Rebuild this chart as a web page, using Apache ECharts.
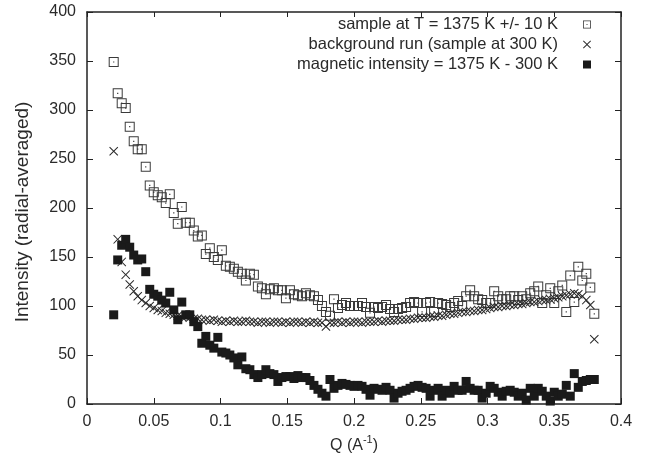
<!DOCTYPE html>
<html>
<head>
<meta charset="utf-8">
<script src="https://cdn.jsdelivr.net/npm/echarts@6/dist/echarts.min.js"></script>
<style>html,body{margin:0;padding:0;background:#fff;}#c{width:650px;height:462px;}</style>
</head>
<body>
<div id="c"></div>
<script>
// Q values (A^-1), shared by the three series
var qValues = [
0.020,0.023,0.026,0.029,0.032,0.035,0.038,0.041,0.044,0.047,
0.050,0.053,0.056,0.059,0.062,0.065,0.068,0.071,0.074,0.077,
0.080,0.083,0.086,0.089,0.092,0.095,0.098,0.101,0.104,0.107,
0.110,0.113,0.116,0.119,0.122,0.125,0.128,0.131,0.134,0.137,
0.140,0.143,0.146,0.149,0.152,0.155,0.158,0.161,0.164,0.167,
0.170,0.173,0.176,0.179,0.182,0.185,0.188,0.191,0.194,0.197,
0.200,0.203,0.206,0.209,0.212,0.215,0.218,0.221,0.224,0.227,
0.230,0.233,0.236,0.239,0.242,0.245,0.248,0.251,0.254,0.257,
0.260,0.263,0.266,0.269,0.272,0.275,0.278,0.281,0.284,0.287,
0.290,0.293,0.296,0.299,0.302,0.305,0.308,0.311,0.314,0.317,
0.320,0.323,0.326,0.329,0.332,0.335,0.338,0.341,0.344,0.347,
0.350,0.353,0.356,0.359,0.362,0.365,0.368,0.371,0.374,0.377,
0.380];

var sampleHot = [
349,317,307,302,283,268,260,260,242,223,
216,213,211,205,214,195,184,201,185,185,
177,171,172,153,159,150,147,157,141,140,
138,135,133,126,133,132,120,118,112,117,
118,116,116,108,116,112,111,110,113,111,
110,106,100,94,90,107,98,101,103,100,
100,100,103,99,93,99,98,99,101,97,
94,97,98,99,103,104,103,94,103,104,
94,103,102,101,99,103,105,100,110,116,
110,107,106,103,103,115,110,107,107,110,
110,106,110,107,113,115,120,103,111,118,
103,115,121,94,131,104,140,126,133,119,
92];

var background = [
258,168,145,132,122,115,110,106,103,100,
98,96,95,93,92,91,90,89,89,88,
87,87,86,86,85,86,85,84,85,84,
85,84,84,85,84,84,83,84,84,83,
84,84,83,84,83,84,84,83,84,83,
84,83,83,79,83,83,84,83,84,83,
84,84,83,84,84,84,85,84,85,85,
85,86,86,86,87,87,88,88,88,89,
89,90,90,91,92,92,93,94,94,95,
95,96,96,97,98,99,99,100,100,101,
101,102,102,103,104,104,105,106,106,107,
108,109,110,111,112,113,112,110,106,101,
66];

var magnetic = [
91,147,162,168,160,152,147,148,135,117,
112,110,106,103,114,96,86,104,91,91,
84,79,62,69,60,57,68,53,52,50,
47,40,48,36,35,30,27,30,35,31,
30,23,27,28,28,26,29,27,27,24,
19,15,11,8,25,16,19,21,20,19,
18,19,18,15,9,16,15,14,17,14,
6,11,13,14,16,18,19,17,16,8,
14,16,8,14,11,18,14,14,23,16,
14,14,6,11,18,16,12,8,13,14,
12,8,11,4,16,8,16,13,8,3,
12,8,10,19,8,31,17,23,24,25,
25];

var seriesNames = [
  'sample at T = 1375 K +/- 10 K',
  'background run (sample at 300 K)',
  'magnetic intensity = 1375 K - 300 K'
];

function pairs(vals) {
  return qValues.map(function (q, i) { return [q, vals[i]]; });
}

var symOpenSquare = 'path://M0,0H10V10H0ZM1,1V9H9V1ZM4.4,4.4H5.6V5.6H4.4Z';
var symCross = 'path://M0,0.8L0.8,0L5,4.2L9.2,0L10,0.8L5.8,5L10,9.2L9.2,10L5,5.8L0.8,10L0,9.2L4.2,5Z';
var symFilled = 'path://M0,0H10V10H0Z';

var FONT = '"Liberation Sans", Arial, Helvetica, sans-serif';
var FS = 16;
var axisCol = '#222';
var textCol = '#2a2a2a';

var chart = echarts.init(document.getElementById('c'), null, {renderer: 'canvas'});
chart.setOption({
  animation: false,
  backgroundColor: '#fff',
  textStyle: {fontFamily: FONT},
  grid: {left: 87, right: 29, top: 12, bottom: 58, containLabel: false},
  legend: {
    orient: 'vertical',
    right: 54,
    top: 11,
    align: 'right',
    itemWidth: 48,
    itemHeight: 8,
    itemGap: 3,
    textStyle: {fontSize: 16.5, color: textCol, fontFamily: FONT},
    data: seriesNames
  },
  xAxis: [{
    type: 'value', min: 0, max: 0.4, interval: 0.05,
    position: 'bottom',
    name: '{a|Q (A}{s|-1}{a|)}',
    nameLocation: 'middle', nameGap: 30,
    nameTextStyle: {
      rich: {
        a: {fontSize: FS, color: textCol, fontFamily: FONT, lineHeight: 22},
        s: {fontSize: 11, color: textCol, fontFamily: FONT, lineHeight: 13, verticalAlign: 'top'}
      }
    },
    axisLine: {show: true, onZero: false, lineStyle: {color: axisCol, width: 1.5}},
    axisTick: {show: true, inside: true, length: 6, lineStyle: {color: axisCol, width: 1}},
    axisLabel: {fontSize: FS, color: textCol, margin: 10, fontFamily: FONT},
    splitLine: {show: false}
  }, {
    type: 'value', min: 0, max: 0.4, interval: 0.05,
    position: 'top',
    axisLine: {show: true, onZero: false, lineStyle: {color: axisCol, width: 1.5}},
    axisTick: {show: true, inside: true, length: 5, lineStyle: {color: axisCol, width: 1}},
    axisLabel: {show: false},
    splitLine: {show: false}
  }],
  yAxis: [{
    type: 'value', min: 0, max: 400, interval: 50,
    position: 'left',
    name: 'Intensity (radial-averaged)',
    nameLocation: 'middle', nameGap: 55,
    nameTextStyle: {fontSize: 19, color: textCol, fontFamily: FONT, padding: [0, 8, 0, 0]},
    axisLine: {show: true, onZero: false, lineStyle: {color: axisCol, width: 1.5}},
    axisTick: {show: true, inside: true, length: 6, lineStyle: {color: axisCol, width: 1}},
    axisLabel: {fontSize: FS, color: textCol, margin: 11, fontFamily: FONT},
    splitLine: {show: false}
  }, {
    type: 'value', min: 0, max: 400, interval: 50,
    position: 'right',
    axisLine: {show: true, onZero: false, lineStyle: {color: axisCol, width: 1.5}},
    axisTick: {show: true, inside: true, length: 6, lineStyle: {color: axisCol, width: 1}},
    axisLabel: {show: false},
    splitLine: {show: false}
  }],
  series: [{
    name: seriesNames[0], type: 'scatter',
    xAxisIndex: 0, yAxisIndex: 0,
    symbol: symOpenSquare, symbolSize: 10,
    itemStyle: {color: '#3a3a3a', opacity: 1},
    data: pairs(sampleHot)
  }, {
    name: seriesNames[1], type: 'scatter',
    xAxisIndex: 0, yAxisIndex: 0,
    symbol: symCross, symbolSize: 9,
    itemStyle: {color: '#2a2a2a', opacity: 1},
    data: pairs(background)
  }, {
    name: seriesNames[2], type: 'scatter',
    xAxisIndex: 0, yAxisIndex: 0,
    symbol: symFilled, symbolSize: 9,
    itemStyle: {color: '#1a1a1a', opacity: 1},
    data: pairs(magnetic)
  }]
});
</script>
</body>
</html>
